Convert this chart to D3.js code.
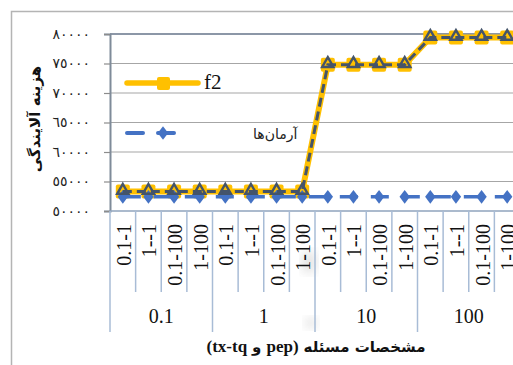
<!DOCTYPE html>
<html>
<head>
<meta charset="utf-8">
<script src="https://cdn.jsdelivr.net/npm/d3@7"></script>
<style>
  html, body { margin: 0; padding: 0; background: #ffffff; overflow: hidden; }
  svg { display: block; }
</style>
</head>
<body>
<svg id="chart" width="513" height="365"></svg>
<script>
// Problem settings: outer group (pep) and inner pair (tx-tq)
const groups = ["0.1", "1", "10", "100"];
const subLabels = ["0.1-1", "1--1", "0.1-100", "1-100"];

// Pollution cost per setting
const f2 = [53300, 53300, 53300, 53300, 53300, 53300, 53300, 53300,
            74800, 74800, 74800, 74800, 79400, 79400, 79400, 79400];
const armanha = [52400, 52400, 52400, 52400, 52400, 52400, 52400, 52400,
                 52400, 52400, 52400, 52400, 52400, 52400, 52400, 52400];

const yTicks = [50000, 55000, 60000, 65000, 70000, 75000, 80000];

const seriesNames = ["f2", "آرمان‌ها"];
const yTitle = "هزینه آلایندگی";
// x title pieces, in left-to-right display order
const xTitleParts = ["(tx-tq", "و", "pep)", "مشخصات مسئله"];

const categories = groups.flatMap(g => subLabels.map(s => g + "|" + s));

const svg = d3.select("#chart");
const plot = { left: 110, top: 34, right: 520, bottom: 211 };

const x = d3.scaleBand().domain(categories).range([plot.left, plot.right]).padding(0);
const xGroup = d3.scaleBand().domain(groups).range([plot.left, plot.right]).padding(0);
const y = d3.scaleLinear().domain([50000, 80000]).range([plot.bottom, plot.top]);

const arabicDigits = "٠١٢٣٤٥٦٧٨٩";
const toArabic = v => String(v).replace(/[0-9]/g, d => arabicDigits[+d]);

const serif = "'Liberation Serif', 'Times New Roman', serif";
const sans = "'DejaVu Sans', sans-serif";

// outer chart frame
svg.append("path")
  .attr("d", "M11.5,365 V11.5 H513")
  .attr("fill", "none").attr("stroke", "#b4b4b4").attr("stroke-width", 1.5);

// soft smudges
const defs = svg.append("defs");
defs.append("filter").attr("id", "soft").append("feGaussianBlur").attr("stdDeviation", 5);
svg.append("ellipse").attr("cx", 309).attr("cy", 262).attr("rx", 8).attr("ry", 12)
  .attr("fill", "#c8c8c8").attr("opacity", 0.45).attr("filter", "url(#soft)");
svg.append("ellipse").attr("cx", 311).attr("cy", 323).attr("rx", 7).attr("ry", 6)
  .attr("fill", "#c8c8c8").attr("opacity", 0.4).attr("filter", "url(#soft)");

// horizontal gridlines
svg.append("g").selectAll("line").data(yTicks.filter(t => t !== 50000 && t !== 80000)).join("line")
  .attr("x1", plot.left).attr("x2", plot.right)
  .attr("y1", d => y(d)).attr("y2", d => y(d))
  .attr("stroke", "#a6a6a6").attr("stroke-width", 1.2);

// top border of plot area
svg.append("line")
  .attr("x1", plot.left).attr("x2", plot.right)
  .attr("y1", y(80000)).attr("y2", y(80000))
  .attr("stroke", "#66758a").attr("stroke-width", 1.6);

// y axis
const yAxis = d3.axisLeft(y).tickValues(yTicks).tickSize(6).tickPadding(14).tickFormat(toArabic);
const gy = svg.append("g").attr("transform", `translate(${plot.left},0)`).call(yAxis);
gy.select(".domain").attr("stroke", "#7f8b99").attr("stroke-width", 2);
gy.selectAll(".tick line").attr("stroke", "#8c8c8c").attr("stroke-width", 1.2);
gy.selectAll(".tick text")
  .attr("font-family", sans).attr("font-size", 14)
  .attr("fill", "#222");

// x axis line
svg.append("line")
  .attr("x1", plot.left).attr("x2", plot.right)
  .attr("y1", plot.bottom).attr("y2", plot.bottom)
  .attr("stroke", "#8fa3bd").attr("stroke-width", 1.5);

// category separators
const catEdges = categories.map(c => x(c)).concat([plot.right]);
svg.append("g").selectAll("line").data(catEdges).join("line")
  .attr("x1", d => d).attr("x2", d => d)
  .attr("y1", plot.bottom).attr("y2", (d, i) => (i % 4 === 0) ? 332 : 292)
  .attr("stroke", "#a8bcd6").attr("stroke-width", 1.5);

// category labels (rotated)
svg.append("g").selectAll("text").data(categories).join("text")
  .attr("transform", d => `translate(${x(d) + x.bandwidth() / 2 + 1},224) rotate(-90)`)
  .attr("text-anchor", "end").attr("dominant-baseline", "central")
  .attr("font-family", serif).attr("font-size", 20).attr("fill", "#111")
  .text(d => d.split("|")[1]);

// group labels
svg.append("g").selectAll("text").data(groups).join("text")
  .attr("x", d => xGroup(d) + xGroup.bandwidth() / 2).attr("y", 323)
  .attr("text-anchor", "middle")
  .attr("font-family", serif).attr("font-size", 20).attr("fill", "#111")
  .text(d => d);

// x axis title: pieces laid out left to right, centred under the plot
const tg = svg.append("g");
const partFont = [serif, sans, serif, sans];
const partSize = [17, 15, 17, 15];
const pieces = xTitleParts.map((t, i) => tg.append("text")
  .attr("y", 352).attr("font-family", partFont[i]).attr("font-size", partSize[i])
  .attr("font-weight", "bold").attr("fill", "#111").text(t));
const gap = 5;
const widths = pieces.map(p => p.node().getComputedTextLength());
const total = d3.sum(widths) + gap * (pieces.length - 1);
let px = 316 - total / 2;
pieces.forEach((p, i) => { p.attr("x", px); px += widths[i] + gap; });

svg.append("text")
  .attr("transform", "translate(35,119) rotate(-90)")
  .attr("text-anchor", "middle").attr("dominant-baseline", "central")
  .attr("font-family", sans).attr("font-size", 15).attr("font-weight", "bold").attr("fill", "#111")
  .text(yTitle);

const cx = (d, i) => x(categories[i]) + x.bandwidth() / 2;
const line = d3.line().x((d, i) => cx(d, i)).y(d => y(d));
const tri = d3.symbol().type(d3.symbolTriangle).size(55);
const dia = d3.symbol().type(d3.symbolDiamond).size(60);

// f2: wide yellow band with square markers
svg.append("path").datum(f2).attr("d", line)
  .attr("fill", "none").attr("stroke", "#ffc000").attr("stroke-width", 6).attr("stroke-linejoin", "round");
svg.append("g").selectAll("rect").data(f2).join("rect")
  .attr("x", (d, i) => cx(d, i) - 7).attr("y", d => y(d) - 7)
  .attr("width", 14).attr("height", 14).attr("rx", 2)
  .attr("fill", "#ffc000");

// آرمان‌ها: dashed blue with diamonds
svg.append("path").datum(armanha).attr("d", line)
  .attr("fill", "none").attr("stroke", "#4472c4").attr("stroke-width", 3.5)
  .attr("stroke-dasharray", "18,13");
svg.append("g").selectAll("path").data(armanha).join("path")
  .attr("d", dia).attr("transform", (d, i) => `translate(${cx(d, i)},${y(d)}) scale(1.25,0.95)`)
  .attr("fill", "#4472c4");

// f2: dark dashed core with triangle markers
svg.append("path").datum(f2).attr("d", line)
  .attr("fill", "none").attr("stroke", "#44546a").attr("stroke-width", 3)
  .attr("stroke-dasharray", "9,5");
svg.append("g").selectAll("path").data(f2).join("path")
  .attr("d", tri).attr("transform", (d, i) => `translate(${cx(d, i)},${y(d) - 1})`)
  .attr("fill", "none").attr("stroke", "#44546a").attr("stroke-width", 2.4);

// legend
const lg = svg.append("g");
lg.append("line").attr("x1", 127).attr("x2", 198).attr("y1", 83).attr("y2", 83)
  .attr("stroke", "#ffc000").attr("stroke-width", 5.5).attr("stroke-linecap", "round");
lg.append("rect").attr("x", 157).attr("y", 77).attr("width", 13).attr("height", 13).attr("rx", 2)
  .attr("fill", "#ffc000");
lg.append("text").attr("x", 204).attr("y", 89)
  .attr("font-family", serif).attr("font-size", 21).attr("fill", "#111").text(seriesNames[0]);
lg.append("line").attr("x1", 127).attr("x2", 178).attr("y1", 133).attr("y2", 133)
  .attr("stroke", "#4472c4").attr("stroke-width", 4).attr("stroke-linecap", "round")
  .attr("stroke-dasharray", "16,15");
lg.append("path").attr("d", dia).attr("transform", "translate(163,133) scale(1.25,0.95)")
  .attr("fill", "#4472c4");
lg.append("text").attr("x", 253).attr("y", 139).attr("text-anchor", "end")
  .attr("direction", "rtl")
  .attr("font-family", sans).attr("font-size", 14).attr("fill", "#222").text(seriesNames[1]);
</script>
</body>
</html>
